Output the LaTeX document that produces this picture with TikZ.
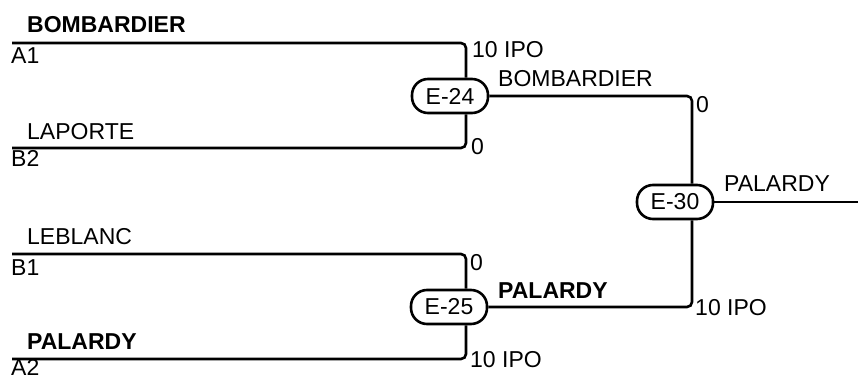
\documentclass[tikz,border=0pt]{standalone}
\usepackage{fontspec}
\setmainfont{Liberation Sans}
\begin{document}
\begin{tikzpicture}[x=1pt,y=-1pt,
  every node/.style={font=\fontsize{23}{27}\selectfont, inner sep=0pt},
  match/.style={draw, line width=2.6pt, rounded corners=16pt, minimum width=76pt, minimum height=34pt, fill=white},
  lbl/.style={anchor=base west},
  wire/.style={line width=2.6pt, rounded corners=5pt}]
\useasboundingbox (0,0) rectangle (858,379);
% match nodes
\node[match] (e24) at (450,96) {E-24};
\node[match] (e25) at (449,307) {E-25};
\node[match] (e30) at (675,202) {E-30};
% free ends
\coordinate (a1) at (12,43);
\coordinate (b2) at (12,148);
\coordinate (b1) at (12,254);
\coordinate (a2) at (12,359);
\coordinate (out) at (858,202);
% connectors
\draw[wire] (a1) -| ([xshift=16pt]e24.north);
\draw[wire] (b2) -| ([xshift=16pt]e24.south);
\draw[wire] (b1) -| ([xshift=17pt]e25.north);
\draw[wire] (a2) -| ([xshift=17pt]e25.south);
\draw[wire] (e24.east) -| ([xshift=17pt]e30.north);
\draw[wire] (e25.east) -| ([xshift=17pt]e30.south);
\draw[wire] (e30.east) -- (out);
% left labels
\node[lbl] (t1) at (27,33) {\bfseries BOMBARDIER};
\node[lbl] (t2) at (11,64) {A1};
\node[lbl] (t3) at (27,140) {LAPORTE};
\node[lbl] (t4) at (11,167) {B2};
\node[lbl] (t5) at (27,244) {LEBLANC};
\node[lbl] (t6) at (11,275) {B1};
\node[lbl] (t7) at (27,349) {\bfseries PALARDY};
\node[lbl] (t8) at (11,375) {A2};
% right labels
\node[lbl] (s1) at (472,58) {10 IPO};
\node[lbl] (s2) at (471,155) {0};
\node[lbl] (s3) at (498,87) {BOMBARDIER};
\node[lbl] (s4) at (696,113) {0};
\node[lbl] (s5) at (470,270) {0};
\node[lbl] (s6) at (470,367) {10 IPO};
\node[lbl] (s7) at (498,298) {\bfseries PALARDY};
\node[lbl] (s8) at (695,315) {10 IPO};
\node[lbl] (s9) at (724,192) {PALARDY};
\end{tikzpicture}
\end{document}
